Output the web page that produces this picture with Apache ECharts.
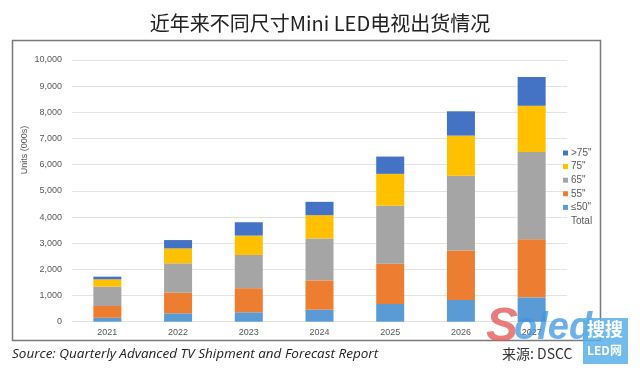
<!DOCTYPE html>
<html>
<head>
<meta charset="utf-8">
<script src="https://cdn.jsdelivr.net/npm/echarts@6/dist/echarts.min.js"></script>
<style>html,body{margin:0;padding:0;background:#fff}#c{width:640px;height:379px}</style>
</head>
<body>
<div id="c"></div>
<script>
var years = ['2021','2022','2023','2024','2025','2026','2027'];
var s50 = [150, 320, 360, 460, 680, 830, 930];
var s55 = [450, 790, 920, 1120, 1530, 1890, 2220];
var s65 = [740, 1120, 1270, 1600, 2220, 2860, 3330];
var s75 = [280, 570, 740, 890, 1220, 1530, 1770];
var sGt75 = [100, 320, 510, 510, 660, 930, 1100];
var seriesNames = ['≤50"', '55"', '65"', '75"', '>75"'];
var seriesColors = ['#5B9BD5', '#ED7D31', '#A5A5A5', '#FFC000', '#4472C4'];
var seriesData = [s50, s55, s65, s75, sGt75];

var chart = echarts.init(document.getElementById('c'));
var series = seriesData.map(function (d, i) {
  return {
    name: seriesNames[i], type: 'bar', stack: 'total', data: d,
    barWidth: 28, itemStyle: { color: seriesColors[i] }
  };
});
series.push({ name: 'Total', type: 'line', data: [], symbol: 'none' });

chart.setOption({
  animation: false,
  backgroundColor: '#fff',
  title: {
    text: '近年来不同尺寸Mini LED电视出货情况',
    left: 'center', top: 8,
    textStyle: { fontFamily: 'Noto Sans CJK SC', fontSize: 20, fontWeight: 'normal', color: '#222' }
  },
  grid: { left: 72, right: 73, top: 60, bottom: 57.3, containLabel: false, outerBoundsMode: 'none' },
  legend: {
    orient: 'vertical', left: 558, top: 143,
    itemWidth: 5, itemHeight: 5, itemGap: 3.6,
    textStyle: { fontSize: 10, color: '#595959', fontFamily: 'Liberation Sans', padding: [0, 0, 0, -2] },
    data: [
      { name: '>75"', icon: 'rect' },
      { name: '75"', icon: 'rect' },
      { name: '65"', icon: 'rect' },
      { name: '55"', icon: 'rect' },
      { name: '≤50"', icon: 'rect' },
      { name: 'Total', icon: 'rect', itemStyle: { color: 'rgba(0,0,0,0)' } }
    ]
  },
  xAxis: {
    type: 'category', data: years,
    axisLine: { show: false }, axisTick: { show: false },
    axisLabel: { fontSize: 9, color: '#595959', margin: 6, fontFamily: 'Liberation Sans' }
  },
  yAxis: {
    type: 'value', min: 0, max: 10000, interval: 1000,
    axisLabel: {
      fontSize: 9, color: '#595959', margin: 10, fontFamily: 'Liberation Sans',
      formatter: function (v) { return v.toLocaleString('en-US'); }
    },
    splitLine: { lineStyle: { color: '#E3E3E3', width: 1 } }
  },
  series: series,
  graphic: [
    { type: 'rect', shape: { x: 12.5, y: 40.5, width: 588, height: 300 }, style: { fill: 'none', stroke: '#7a7a7a', lineWidth: 1.5 }, z: -1 },
    { type: 'text', x: 25, y: 150, rotation: Math.PI / 2, style: { text: 'Units (000s)', font: '9px "Liberation Sans"', fill: '#595959', align: 'center', verticalAlign: 'middle' } },
    { type: 'text', left: 12, top: 347, style: { text: 'Source: Quarterly Advanced TV Shipment and Forecast Report', font: 'italic 13.5px "Open Sans"', fill: '#222' } },
    { type: 'text', left: 502, top: 347, style: { text: '来源: DSCC', font: '14px "Noto Sans CJK SC"', fill: '#333' } },
    { type: 'text', left: 486, top: 304, style: { text: 'S', font: 'italic bold 48px "Liberation Sans"', fill: 'rgba(226,80,80,0.75)' }, z: 10 },
    { type: 'text', left: 514, top: 310, style: { text: 'oled', font: 'italic bold 38px "Liberation Sans"', fill: 'rgba(60,150,225,0.75)' }, z: 10 },
    { type: 'rect', shape: { x: 583, y: 318, width: 45, height: 46 }, style: { fill: 'rgba(90,175,230,0.85)' }, z: 10 },
    { type: 'text', left: 587, top: 320, style: { text: '搜搜', font: 'bold 18px "Noto Sans CJK SC"', fill: '#fff' }, z: 11 },
    { type: 'text', left: 587, top: 344, style: { text: 'LED网', font: 'bold 12px "Noto Sans CJK SC"', fill: '#fff' }, z: 11 }
  ]
});
</script>
</body>
</html>
